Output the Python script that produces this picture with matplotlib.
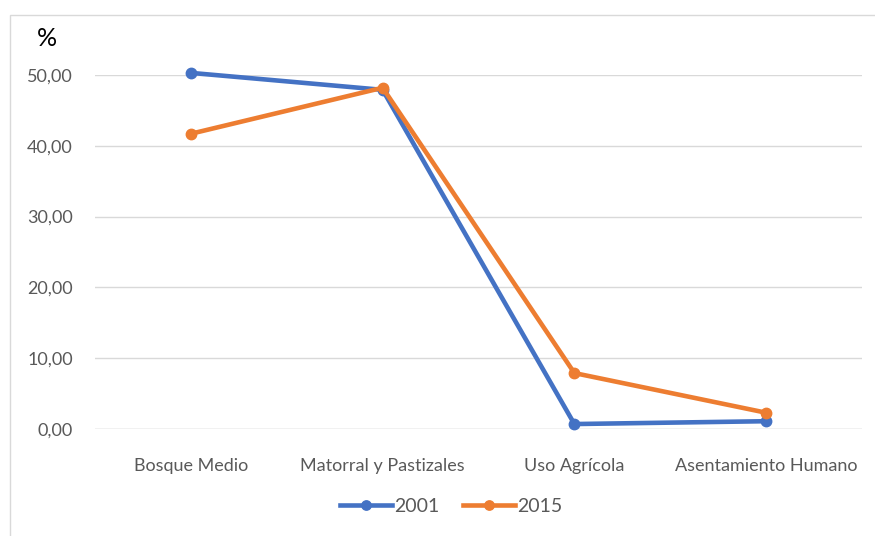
import matplotlib.pyplot as plt
from matplotlib.patches import Rectangle
from matplotlib.ticker import FuncFormatter

# --- data ---
categories = ["Bosque Medio", "Matorral y Pastizales", "Uso Agrícola", "Asentamiento Humano"]
pct_2001 = [50.3, 47.9, 0.7, 1.1]
pct_2015 = [41.7, 48.2, 7.9, 2.3]
yticks = [0, 10, 20, 30, 40, 50]

BLUE = "#4472C4"
ORANGE = "#ED7D31"
GREY = "#595959"

plt.rcParams["font.family"] = ["Lato", "DejaVu Sans"]

fig = plt.figure(figsize=(8.75, 5.36), dpi=100)
ax = fig.add_axes([95 / 875, 1 - 429 / 536, (862 - 95) / 875, (429 - 75) / 536])

x = range(len(categories))
ax.plot(x, pct_2001, "-o", color=BLUE, lw=3.3, ms=7.5, label="2001", clip_on=False, zorder=3)
ax.plot(x, pct_2015, "-o", color=ORANGE, lw=3.3, ms=7.5, label="2015", clip_on=False, zorder=4)

ax.set_xlim(-0.5, len(categories) - 0.5)
ax.set_ylim(0, 50)
ax.set_yticks(yticks)
ax.yaxis.set_major_formatter(FuncFormatter(lambda v, p: f"{v:.2f}".replace(".", ",")))
ax.set_xticks(list(x))
ax.set_xticklabels(categories)
ax.tick_params(axis="y", length=0, pad=16, labelsize=13, labelcolor=GREY)
ax.tick_params(axis="x", length=0, pad=21, labelsize=13, labelcolor=GREY)
ax.grid(axis="y", color="#D9D9D9", lw=1)
ax.set_axisbelow(True)
for s in ax.spines.values():
    s.set_visible(False)
ax.axhline(0, color="#D9D9D9", lw=1, zorder=1)

fig.text(37 / 875, 1 - 39 / 536, "%", fontsize=18, color="black", va="center")

leg = fig.legend(loc="center", bbox_to_anchor=(451 / 875, 1 - 506 / 536), ncol=2,
                 frameon=False, fontsize=14, handlelength=2.7, handletextpad=0.1,
                 columnspacing=1.2, markerscale=0.9)
for t in leg.get_texts():
    t.set_color(GREY)

# light chart-area border
fig.add_artist(Rectangle((10 / 875, -0.01), 1.0, 1 - 15 / 536 + 0.01,
                         transform=fig.transFigure, fill=False,
                         edgecolor="#D9D9D9", lw=1))

fig.savefig("out.png", dpi=100)
